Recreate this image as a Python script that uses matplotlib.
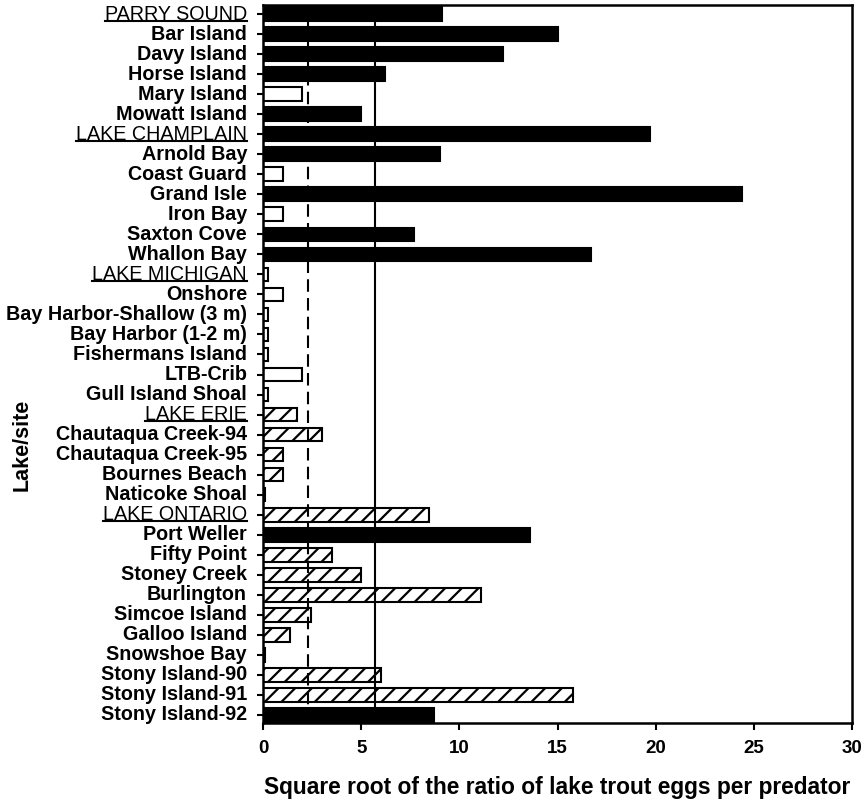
import matplotlib
matplotlib.use("Agg")
import matplotlib.pyplot as plt
from matplotlib.lines import Line2D

plt.rcParams["font.family"] = ["Liberation Sans", "DejaVu Sans"]
plt.rcParams["hatch.linewidth"] = 1.6
plt.rcParams["hatch.color"] = "black"

# Sites, grouped by lake (group headers are flagged separately)
sites = [
    "PARRY SOUND", "Bar Island", "Davy Island", "Horse Island", "Mary Island", "Mowatt Island",
    "LAKE CHAMPLAIN", "Arnold Bay", "Coast Guard", "Grand Isle", "Iron Bay", "Saxton Cove", "Whallon Bay",
    "LAKE MICHIGAN", "Onshore", "Bay Harbor-Shallow (3 m)", "Bay Harbor (1-2 m)", "Fishermans Island",
    "LTB-Crib", "Gull Island Shoal",
    "LAKE ERIE", "Chautaqua Creek-94", "Chautaqua Creek-95", "Bournes Beach", "Naticoke Shoal",
    "LAKE ONTARIO", "Port Weller", "Fifty Point", "Stoney Creek", "Burlington", "Simcoe Island",
    "Galloo Island", "Snowshoe Bay", "Stony Island-90", "Stony Island-91", "Stony Island-92",
]
headers = ["PARRY SOUND", "LAKE CHAMPLAIN", "LAKE MICHIGAN", "LAKE ERIE", "LAKE ONTARIO"]

# Square root of lake trout eggs per predator
sqrt_ratio = [
    9.1, 15.0, 12.2, 6.2, 2.0, 5.0,
    19.7, 9.0, 1.0, 24.4, 1.0, 7.7, 16.7,
    0.25, 1.0, 0.25, 0.25, 0.25, 2.0, 0.25,
    1.75, 3.0, 1.0, 1.0, 0.12,
    8.45, 13.6, 3.5, 5.0, 11.1, 2.45, 1.4, 0.12, 6.0, 15.8, 8.7,
]

# Bar style per site: solid, open or hatched
bar_kind = [
    "solid", "solid", "solid", "solid", "open", "solid",
    "solid", "solid", "open", "solid", "open", "solid", "solid",
    "open", "open", "open", "open", "open", "open", "open",
    "hatch", "hatch", "hatch", "hatch", "hatch",
    "hatch", "solid", "hatch", "hatch", "hatch", "hatch", "hatch", "hatch", "hatch", "hatch", "solid",
]

# Reference thresholds
dashed_ref = 2.3
solid_ref = 5.7

x_ticks = [0, 5, 10, 15, 20, 25, 30]

fig = plt.figure(figsize=(8.68, 8.0), dpi=100)
ax = fig.add_axes([263 / 868, 1 - 723 / 800, (852 - 263) / 868, (723 - 5) / 800])

pos = list(range(len(sites)))
styles = {
    "solid": dict(color="black", hatch=None),
    "open": dict(color="white", hatch=None),
    "hatch": dict(color="none", hatch="//"),
}
for y, v, k in zip(pos, sqrt_ratio, bar_kind):
    st = styles[k]
    ax.barh(y, v, height=0.68, color=st["color"], edgecolor="black",
            hatch=st["hatch"], linewidth=1.5, zorder=2)

ax.axvline(dashed_ref, color="black", lw=1.5, linestyle=(0, (6, 3)), zorder=3)
ax.axvline(solid_ref, color="black", lw=1.5, zorder=3)

ax.set_xlim(0, 30)
ax.set_ylim(35.4, -0.45)
ax.set_xticks(x_ticks)
ax.set_xticklabels([str(t) for t in x_ticks], fontsize=13.5, fontweight="bold")
ax.set_yticks(pos)
ax.set_yticklabels(sites, fontsize=14.2, va="center")
for lab in ax.get_yticklabels():
    lab.set_fontweight("normal" if lab.get_text() in headers else "bold")

for s in ax.spines.values():
    s.set_linewidth(1.8)
ax.tick_params(axis="y", direction="out", length=4.5, width=1.5, pad=7)
ax.tick_params(axis="x", direction="out", length=5, width=1.5, pad=7)

ax.set_xlabel("Square root of the ratio of lake trout eggs per predator",
              fontsize=16.4, fontweight="bold", labelpad=14)
fig.text(22 / 868, 1 - 445 / 800, "Lake/site", rotation=90, fontsize=15.5,
         fontweight="bold", ha="center", va="center")

# Underline the lake headers
fig.canvas.draw()
renderer = fig.canvas.get_renderer()
inv = fig.transFigure.inverted()
for lab in ax.get_yticklabels():
    if lab.get_text() in headers:
        bb = lab.get_window_extent(renderer)
        yb = bb.y0 + 3.0
        (x0, y0), (x1, _) = inv.transform([(bb.x0, yb), (bb.x1, yb)])
        fig.add_artist(Line2D([x0, x1], [y0, y0], color="black", lw=1.5,
                              transform=fig.transFigure))

fig.savefig("out.png", dpi=100)
